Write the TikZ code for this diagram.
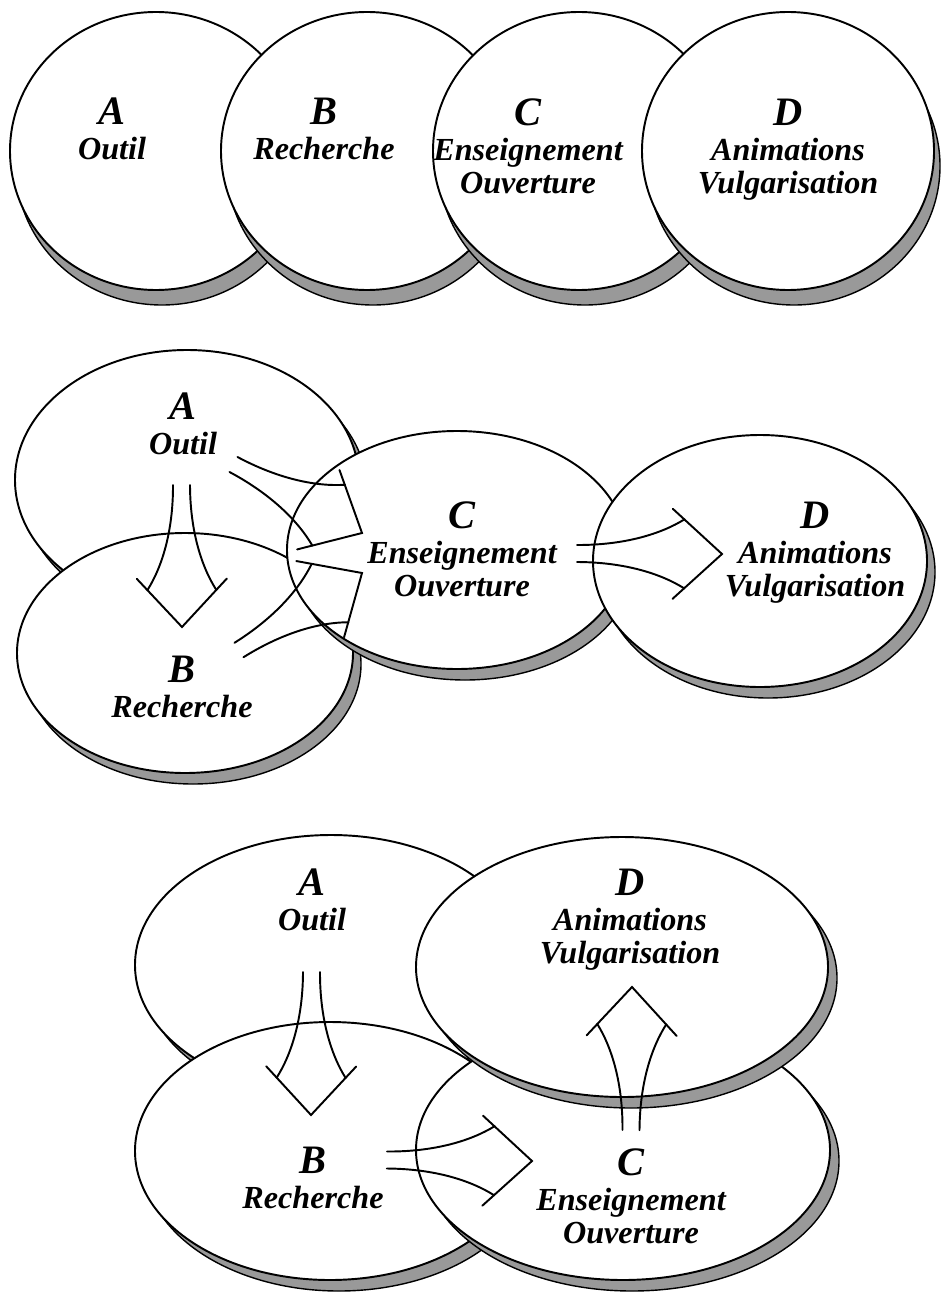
\documentclass[tikz,border=0pt]{standalone}
\usepackage{fontspec}
\setmainfont{Liberation Serif}
\usepackage{tikz}
\usetikzlibrary{calc,positioning}

\tikzset{
  disque/.style={draw=black, fill=white, line width=1.1pt},
  ombre/.style={draw=black, fill=black!40, line width=0.8pt, shift={#1}},
  trait/.style={line width=1.1pt, line cap=round},
  lettre/.style={font=\fontsize{23}{24}\selectfont\bfseries\itshape, inner sep=0pt, anchor=base},
  mot/.style={font=\fontsize{18.3}{20}\selectfont\bfseries\itshape, inner sep=0pt, anchor=base}
}

% 空心粗箭头: #1 起点, #2 箭尖 (calc 距离-角度定点)
\newcommand{\fleche}[2]{%
  \draw[trait] ($(#1)!0.17cm!90:(#2)$) .. controls ($(#1)!0.33!(#2)!0.17cm!90:(#2)$) and ($(#1)!0.58!(#2)!0.4cm!90:(#2)$) .. ($(#1)!0.74!(#2)!0.69cm!90:(#2)$);
  \draw[trait] ($(#1)!0.17cm!-90:(#2)$) .. controls ($(#1)!0.33!(#2)!0.17cm!-90:(#2)$) and ($(#1)!0.58!(#2)!0.4cm!-90:(#2)$) .. ($(#1)!0.74!(#2)!0.69cm!-90:(#2)$);
  \draw[trait] ($(#1)!0.66!(#2)!0.9cm!90:(#2)$) -- (#2) -- ($(#1)!0.66!(#2)!0.9cm!-90:(#2)$);
}

\begin{document}
\begin{tikzpicture}[x=0.02cm, y=-0.02cm]
  \useasboundingbox (0,0) rectangle (943,1294);
  % 第一排: 四个圆盘并列
  \foreach \x/\y/\rx/\ry in {156/151/146/139, 367/151/146/139, 579/151/146/139, 788/151/146/139}{
    \draw[ombre={(6,15)}] (\x,\y) ellipse [x radius=\rx, y radius=\ry];
    \draw[disque] (\x,\y) ellipse [x radius=\rx, y radius=\ry];}
  % 第二排
  \foreach \x/\y/\rx/\ry in {187/480/172/130, 185/653/168/120, 457/550/170/119, 760/561/167/126}{
    \draw[ombre={(8,11)}] (\x,\y) ellipse [x radius=\rx, y radius=\ry];
    \draw[disque] (\x,\y) ellipse [x radius=\rx, y radius=\ry];}
  % 第三排
  \foreach \x/\y/\rx/\ry in {331/965/196/130, 330/1151/195/129, 623/1150/207/130, 622/967/206/130}{
    \draw[ombre={(9,11)}] (\x,\y) ellipse [x radius=\rx, y radius=\ry];
    \draw[disque] (\x,\y) ellipse [x radius=\rx, y radius=\ry];}

  % 文字: 字母在上, 名称在下
  \foreach \n/\x/\y/\l/\m in {A1/112/125/A/Outil, B1/324/125/B/Recherche, C1/528/126/C/Enseignement, D1/788/126/D/Animations,
      A2/183/419/A/Outil, B2/182/682/B/Recherche, C2/462/528/C/Enseignement, D2/815/528/D/Animations,
      A3/312/895/A/Outil, B3/313/1173/B/Recherche, C3/631/1175/C/Enseignement, D3/630/895/D/Animations}{
    \node[lettre] (\n) at (\x,\y) {\l};
    \node[mot] (\n m) at ($(\n.base)+(0,35)$) {\m};}
  \foreach \n/\m in {C1/Ouverture, D1/Vulgarisation, C2/Ouverture, D2/Vulgarisation, C3/Ouverture, D3/Vulgarisation}
    \node[mot] (\n n) at ($(\n m.base)+(0,33)$) {\m};

  % 箭头起点与箭尖
  \coordinate (sAB2) at (181.5,485);  \coordinate (tAB2) at (182,627);
  \coordinate (sAC2) at (233.5,464.5); \coordinate (tAC2) at (362,533);
  \coordinate (sBC2) at (239,650);    \coordinate (tBC2) at (362,573);
  \coordinate (sCD2) at (577,553.5);  \coordinate (tCD2) at (722,554);
  \coordinate (sAB3) at (311.5,972);  \coordinate (tAB3) at (311,1115);
  \coordinate (sBC3) at (387,1160);   \coordinate (tBC3) at (532,1161);
  \coordinate (sCD3) at (631,1130);   \coordinate (tCD3) at (632,987);
  \foreach \a/\b in {sAB2/tAB2, sAC2/tAC2, sBC2/tBC2, sCD2/tCD2, sAB3/tAB3, sBC3/tBC3, sCD3/tCD3}
    \fleche{\a}{\b};
\end{tikzpicture}
\end{document}
